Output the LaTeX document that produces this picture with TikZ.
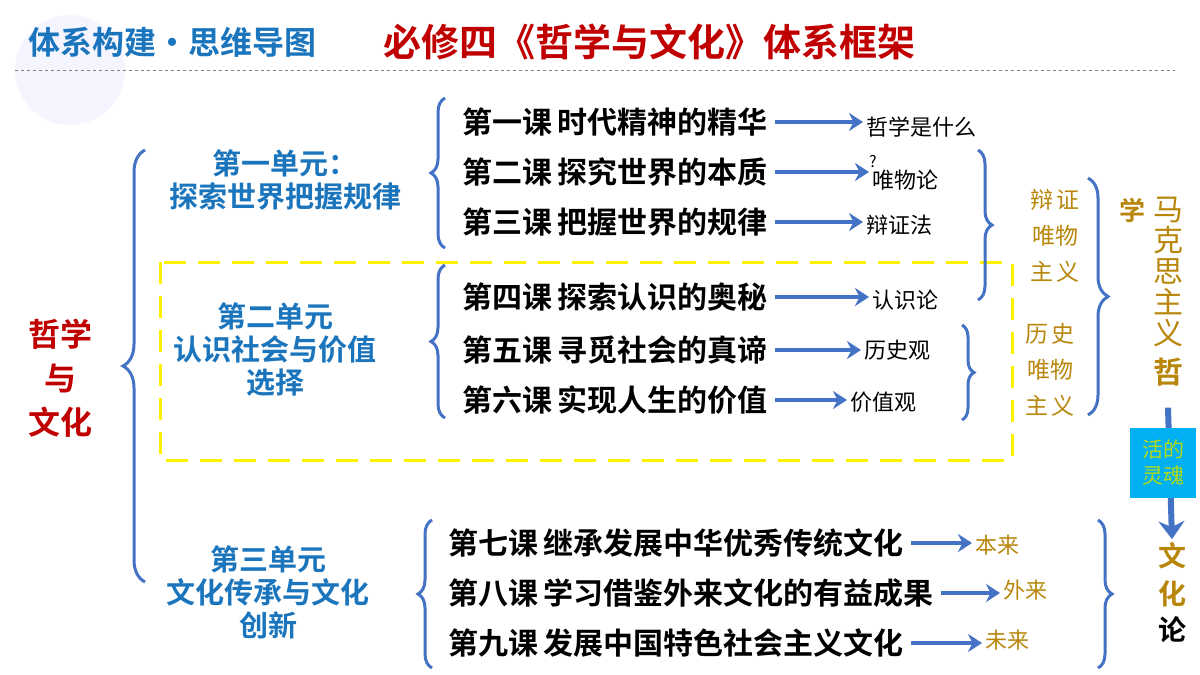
\documentclass[tikz,border=0pt]{standalone}
\usepackage{fontspec}
\setmainfont{Noto Sans CJK SC}
\newfontfamily\cjkb{Noto Sans CJK SC Bold}
\usetikzlibrary{arrows.meta,decorations.pathreplacing}
\definecolor{tblue}{HTML}{1B75BC}
\definecolor{tred}{HTML}{C00000}
\definecolor{abl}{HTML}{4472C4}
\definecolor{gold}{HTML}{B8860B}
\definecolor{cy}{HTML}{00B0F0}
\tikzset{
 br/.style={abl,line width=3pt,decorate,decoration={brace,amplitude=#1}},
 br/.default=14pt,
 les/.style={anchor=west,font=\cjkb\fontsize{30}{32}\selectfont,inner sep=0},
 res/.style={anchor=west,font=\fontsize{22}{24}\selectfont,inner sep=0},
 gres/.style={res,text=gold},
 unit/.style={align=center,text=tblue,font=\cjkb\fontsize{29}{33}\selectfont},
 arr/.style={abl,line width=4pt,-{Stealth[length=14pt,width=18pt]},shorten >=3pt},
 gv/.style={text=gold,align=center,font=\fontsize{23}{36}\selectfont},
}
\begin{document}
\begin{tikzpicture}[x=1pt,y=-1pt]
\useasboundingbox (0,0) rectangle (1200,675);
\fill[blue!4] (70,70) circle (55);
\node[text=tblue,font=\cjkb\fontsize{32}{34}\selectfont,anchor=west,inner sep=0] (t1) at (28,42) {体系构建•思维导图};
\node[text=tred,font=\cjkb\fontsize{38}{40}\selectfont,anchor=west,inner sep=0] (t2) at (383,42) {必修四《哲学与文化》体系框架};
\draw[gray,dashed,line width=1pt] (15,70) -- (1175,70);
\node[text=tred,align=center,font=\cjkb\fontsize{32}{44}\selectfont] (root) at (60,378) {哲学\\与\\文化};
\draw[br=22pt] (145,582) -- (145,150);
\node[unit] (u1) at (285,180) {第一单元：\\探索世界把握规律};
\node[unit] (u2) at (275,350) {第二单元\\认识社会与价值\\选择};
\node[unit] (u3) at (268,592) {第三单元\\文化传承与文化\\创新};
\draw[yellow,dashed,dash pattern=on 22pt off 12pt,line width=3pt] (160,262) rectangle (1012,460);
\draw[br] (445,248) -- (445,98);
\draw[br] (445,418) -- (445,265);
\draw[br] (432,668) -- (432,520);
\node[les] (l1) at (462,122) {第一课\,时代精神的精华};
\node[les] (l2) at (462,172) {第二课\,探究世界的本质};
\node[les] (l3) at (462,222) {第三课\,把握世界的规律};
\node[les] (l4) at (462,297) {第四课\,探索认识的奥秘};
\node[les] (l5) at (462,350) {第五课\,寻觅社会的真谛};
\node[les] (l6) at (462,400) {第六课\,实现人生的价值};
\node[les] (l7) at (448,543) {第七课\,继承发展中华优秀传统文化};
\node[les] (l8) at (448,593) {第八课\,学习借鉴外来文化的有益成果};
\node[les] (l9) at (448,643) {第九课\,发展中国特色社会主义文化};
\node[res] (r1) at (866,127) {哲学是什么};
\node[res] (r2) at (872,180) {唯物论};
\node[font=\fontsize{16}{16}\selectfont] at (873,162) {?};
\node[res] (r3) at (866,225) {辩证法};
\node[res] (r4) at (872,300) {认识论};
\node[res] (r5) at (864,350) {历史观};
\node[res] (r6) at (850,402) {价值观};
\node[gres] (r7) at (975,545) {本来};
\node[gres] (r8) at (1003,590) {外来};
\node[gres] (r9) at (985,640) {未来};
\foreach \a/\b in {l1/r1,l2/r2,l3/r3,l4/r4,l5/r5,l6/r6,l7/r7,l8/r8,l9/r9}
  \draw[arr] (\a.east) ++(8,0) coordinate (s\a) -- (s\a -| \b.west);
\draw[br] (978,150) -- (978,300);
\draw[br=12pt] (962,325) -- (962,420);
\node[gv] (d1) at (1055,236) {辩\,证\\唯物\\主\,义};
\node[gv] (d2) at (1050,370) {历\,史\\唯物\\主\,义};
\draw[br=20pt] (1088,178) -- (1088,415);
\node[text=gold,font=\cjkb\fontsize{26}{26}\selectfont] (xue) at (1132,210) {学};
\node[text=gold,align=center,font=\fontsize{30}{31}\selectfont] (mk) at (1168,272) {马\\克\\思\\主\\义};
\node[text=gold,font=\cjkb\fontsize{30}{30}\selectfont] (zhe) at (1168,372) {哲};
\node[text=gold,align=center,font=\cjkb\fontsize{28}{38}\selectfont] (wh) at (1172,575) {文\\化};
\node[font=\cjkb\fontsize{28}{28}\selectfont] (lun) at (1172,630) {论};
\draw[abl,line width=6pt,-{Stealth[length=18pt,width=26pt]}] (zhe.south) ++(0,18) -- (wh.north);
\node[fill=cy,text=yellow!70!green,align=center,minimum width=66pt,minimum height=70pt,inner sep=0,font=\fontsize{21}{26}\selectfont] (soul) at (1163,463) {活的\\灵魂};
\draw[br] (1098,520) -- (1098,668);
\end{tikzpicture}
\end{document}
